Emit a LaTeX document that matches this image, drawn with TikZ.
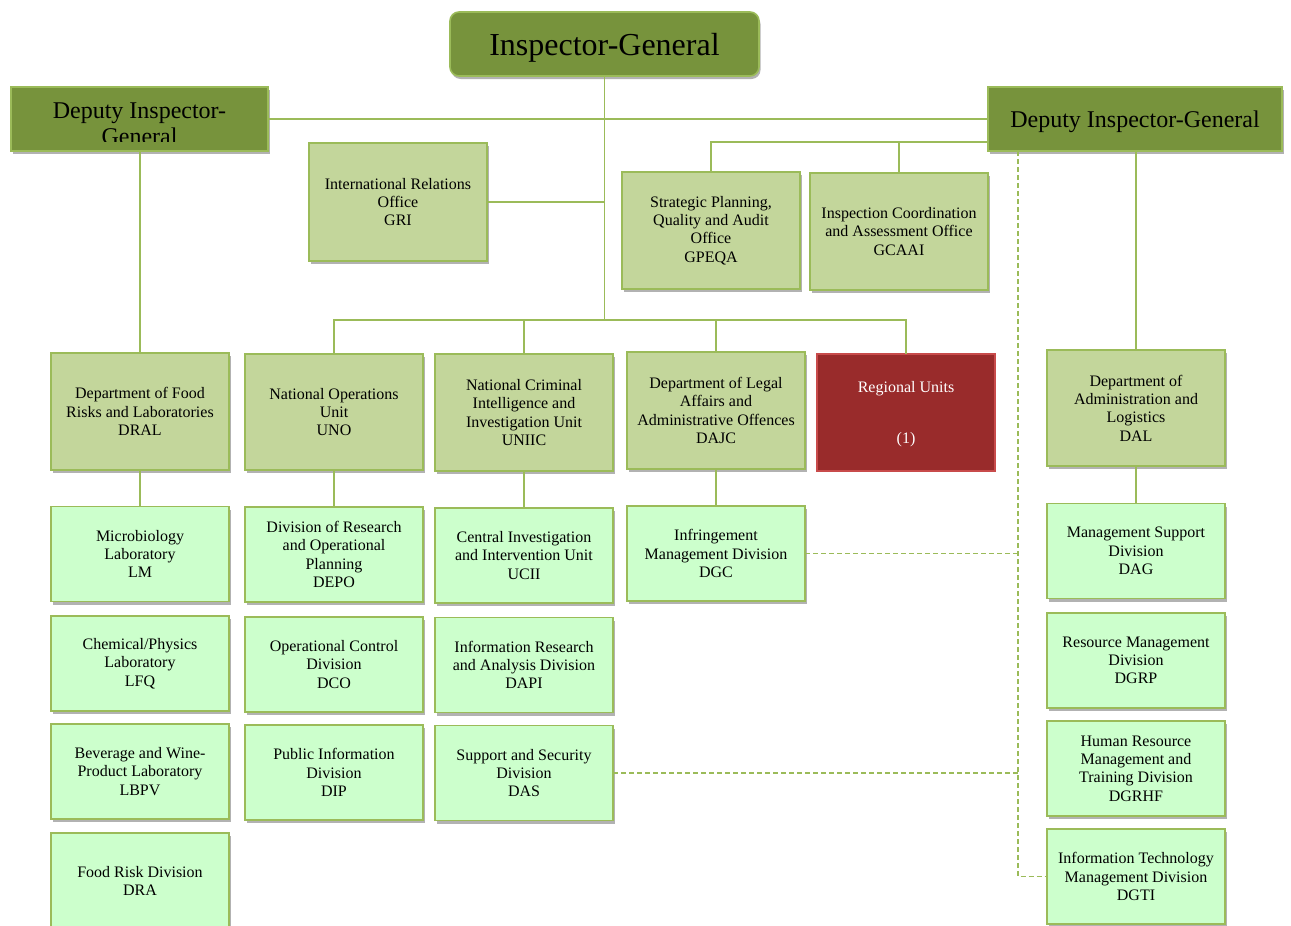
\documentclass[tikz,border=0pt]{standalone}
\usepackage{fontspec}
\setmainfont{Liberation Serif}
\usetikzlibrary{shadows}
\definecolor{olivefill}{HTML}{77933C}
\definecolor{bord}{HTML}{9BBB59}
\definecolor{midfill}{HTML}{C3D69B}
\definecolor{lightfill}{HTML}{CCFFCC}
\definecolor{redfill}{HTML}{992B2B}
\definecolor{redbord}{HTML}{C84B4B}
\begin{document}
\begin{tikzpicture}[x=1pt,y=-1pt,
  every node/.style={font=\fontsize{16}{18.3}\selectfont},
  shad/.style={drop shadow={shadow xshift=1.5pt, shadow yshift=-3pt, opacity=0.3, fill=black}},
  basebox/.style={draw=bord, line width=1.6pt, inner sep=2pt, outer sep=0pt, align=center, minimum width=178pt},
  midbox/.style={basebox, shad, fill=midfill, minimum height=117pt},
  lightbox/.style={basebox, shad, fill=lightfill, minimum height=95pt},
  redbox/.style={basebox, draw=redbord, fill=redfill, text=white, minimum height=117pt},
  topbox/.style={draw=bord, line width=1.6pt, fill=olivefill, shad, inner sep=0pt, outer sep=0pt, text depth=0pt},
  conn/.style={draw=bord, line width=1.6pt},
  dconn/.style={draw=bord, line width=1.5pt, dash pattern=on 5pt off 3pt}
]
\useasboundingbox (0,0) rectangle (1291,926);

% top level
\node[topbox, rounded corners=9pt, minimum width=309pt, minimum height=64pt,
      font=\fontsize{32}{36}\selectfont] (ig) at (604.5,44) {Inspector-General};
\node[topbox, minimum width=257pt, minimum height=64pt] (dl) at (139.5,119) {};
\begin{scope}
  \clip (12,88) rectangle (267,141.5);
  \node[anchor=base, font=\fontsize{24}{26}\selectfont, inner sep=0pt] (dlt1) at (139.5,118) {Deputy Inspector-};
  \node[anchor=base, font=\fontsize{24}{26}\selectfont, inner sep=0pt] (dlt2) at (139.5,144) {General};
\end{scope}
\node[topbox, minimum width=294pt, minimum height=64pt,
      font=\fontsize{24}{26}\selectfont] (dr) at (1135,119) {Deputy Inspector-General};

% offices
\node[midbox, minimum height=118pt] (gri) at (398,202) {International Relations\\Office\\GRI};
\node[midbox] (gpeqa) at (711,230.5) {Strategic Planning,\\Quality and Audit\\Office\\GPEQA};
\node[midbox] (gcaai) at (899,231.5) {Inspection Coordination\\and Assessment Office\\GCAAI};

% departments
\node[midbox] (dral) at (140,411.5) {Department of Food\\Risks and Laboratories\\DRAL};
\node[midbox, minimum height=116pt] (uno) at (334,412) {National Operations\\Unit\\UNO};
\node[midbox] (uniic) at (524,412.5) {National Criminal\\Intelligence and\\Investigation Unit\\UNIIC};
\node[midbox] (dajc) at (716,410.5) {Department of Legal\\Affairs and\\Administrative Offences\\DAJC};
\node[redbox, text depth=0pt] (reg) at (906,412.5) {Regional Units\\[15pt]\\(1)};
\node[midbox, minimum height=116pt] (dal) at (1136,408) {Department of\\Administration and\\Logistics\\DAL};

% divisions
\node[lightbox] (lm) at (140,554) {Microbiology\\Laboratory\\LM};
\node[lightbox] (lfq) at (140,663.5) {Chemical/Physics\\Laboratory\\LFQ};
\node[lightbox] (lbpv) at (140,771.5) {Beverage and Wine-\\Product Laboratory\\LBPV};
\node[lightbox, minimum height=96pt] (dra) at (140,881) {Food Risk Division\\DRA};

\node[lightbox] (depo) at (334,554.5) {Division of Research\\and Operational\\Planning\\DEPO};
\node[lightbox] (dco) at (334,664.5) {Operational Control\\Division\\DCO};
\node[lightbox] (dip) at (334,772.5) {Public Information\\Division\\DIP};

\node[lightbox] (ucii) at (524,555.5) {Central Investigation\\and Intervention Unit\\UCII};
\node[lightbox] (dapi) at (524,665) {Information Research\\and Analysis Division\\DAPI};
\node[lightbox] (das) at (524,773) {Support and Security\\Division\\DAS};

\node[lightbox] (dgc) at (716,553.5) {Infringement\\Management Division\\DGC};

\node[lightbox] (dag) at (1136,551) {Management Support\\Division\\DAG};
\node[lightbox] (dgrp) at (1136,660.5) {Resource Management\\Division\\DGRP};
\node[lightbox] (dgrhf) at (1136,768.5) {Human Resource\\Management and\\Training Division\\DGRHF};
\node[lightbox] (dgti) at (1136,876.5) {Information Technology\\Management Division\\DGTI};

% connectors
\coordinate (hub) at (604.5,320);
\coordinate (rbr) at (988,142);
\coordinate (dtop) at (1018,151);

\draw[conn] (dl.east) -- (dr.west);
\draw[conn] (ig.south) -- (hub);
\draw[conn] (gri.east) -- (gri.east -| ig.south);
\draw[conn] (rbr) -| (gpeqa.north);
\draw[conn] (gcaai.north |- rbr) -- (gcaai.north);
\draw[conn] (uno.north) |- (hub) -| (reg.north);
\draw[conn] (uniic.north |- hub) -- (uniic.north);
\draw[conn] (dajc.north |- hub) -- (dajc.north);
\draw[conn] (dl.south -| dral.north) -- (dral.north);
\draw[conn] (dr.south -| dal.north) -- (dal.north);
\draw[conn] (dral.south) -- (lm.north);
\draw[conn] (uno.south) -- (depo.north);
\draw[conn] (uniic.south) -- (ucii.north);
\draw[conn] (dajc.south) -- (dgc.north);
\draw[conn] (dal.south) -- (dag.north);

\draw[dconn] (dtop) |- (dgti.west);
\draw[dconn] (dgc.east) -- (dgc.east -| dtop);
\draw[dconn] (das.east) -- (das.east -| dtop);
\end{tikzpicture}
\end{document}
